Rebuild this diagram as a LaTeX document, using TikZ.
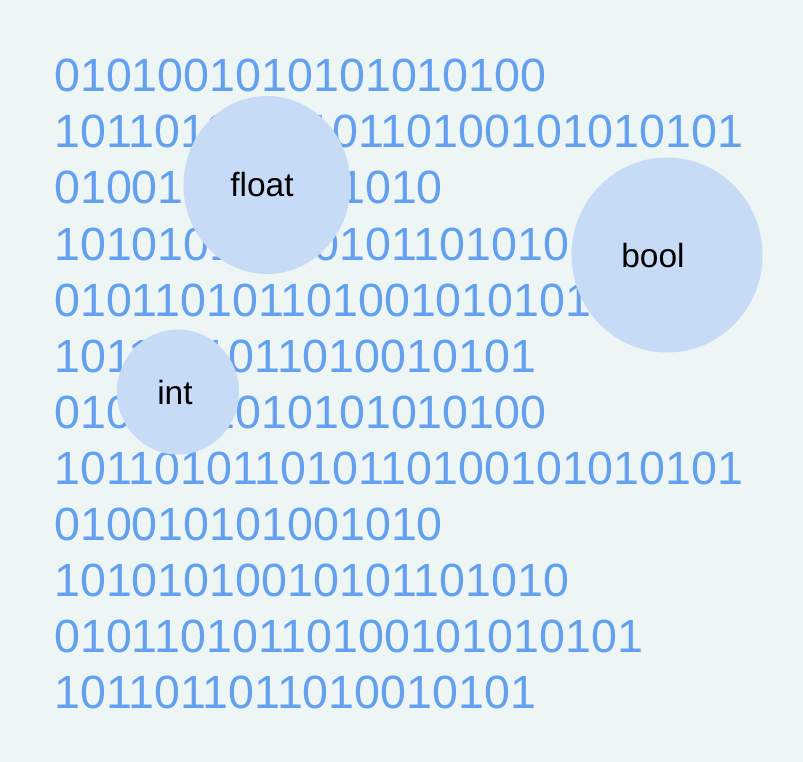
\documentclass[tikz,border=0pt]{standalone}
\usepackage{fontspec}
\setmainfont{Liberation Sans}
\usepackage{tikz}
\usetikzlibrary{shapes.geometric}

\definecolor{bgmint}{RGB}{237,246,244}
\definecolor{bitblue}{RGB}{99,160,240}
\definecolor{bubblefill}{RGB}{199,219,247}

\begin{document}
\begin{tikzpicture}[
    x=1pt, y=-1pt,
    bits/.style={anchor=base west, inner sep=0pt, text=bitblue, font=\fontsize{46.6}{50}\selectfont},
    bubble/.style={ellipse, fill=bubblefill, inner sep=0pt},
    tag/.style={anchor=base, inner sep=0pt, text=black, font=\fontsize{33.5}{36}\selectfont}
  ]
    \fill[bgmint] (0,0) rectangle (803,762);
    \useasboundingbox (0,0) rectangle (803,762);

    \node[bits] (row1)  at (54,91.8)  {0101001010101010100};
    \node[bits] (row2)  at (54,147.9) {101101011010110100101010101};
    \node[bits] (row3)  at (54,204.0) {010010101001010};
    \node[bits] (row4)  at (54,260.1) {10101010010101101010};
    \node[bits] (row5)  at (54,316.2) {01011010110100101010101};
    \node[bits] (row6)  at (54,372.3) {1011011011010010101};
    \node[bits] (row7)  at (54,428.4) {0101001010101010100};
    \node[bits] (row8)  at (54,484.5) {101101011010110100101010101};
    \node[bits] (row9)  at (54,540.6) {010010101001010};
    \node[bits] (row10) at (54,596.7) {10101010010101101010};
    \node[bits] (row11) at (54,652.8) {01011010110100101010101};
    \node[bits] (row12) at (54,708.9) {1011011011010010101};

    \node[bubble, minimum width=167, minimum height=178] (floatbub) at (267,185) {};
    \node[bubble, minimum width=191, minimum height=195] (boolbub)  at (667,255) {};
    \node[bubble, minimum width=122, minimum height=125] (intbub)   at (178,392) {};

    \node[tag] (floatlbl) at (262,197) {float};
    \node[tag] (boollbl)  at (653,267) {bool};
    \node[tag] (intlbl)   at (175,404) {int};
  \end{tikzpicture}
\end{document}
